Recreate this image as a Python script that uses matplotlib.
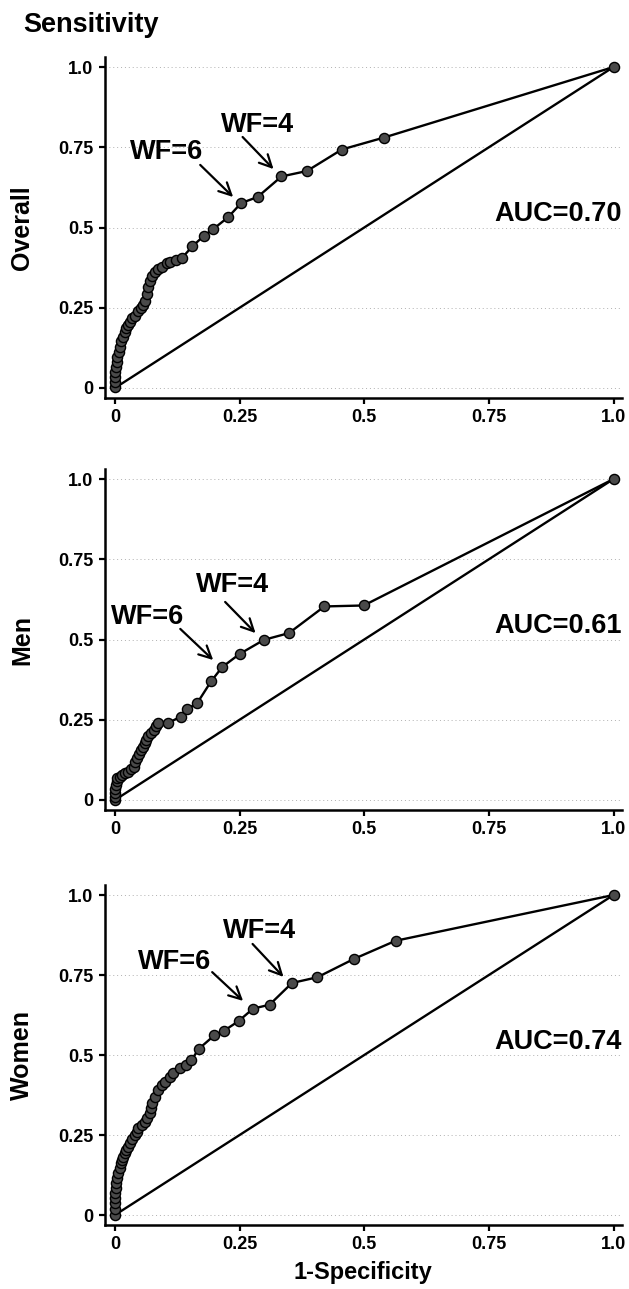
import matplotlib
matplotlib.use("Agg")
import matplotlib.pyplot as plt
import matplotlib.transforms as mtransforms

plt.rcParams['font.family'] = ['Liberation Sans', 'DejaVu Sans']
plt.rcParams['font.weight'] = 'bold'

# ---- data (1-specificity, sensitivity) ----
overall_fpr = [0, 0, 0, 0.001, 0.002, 0.004, 0.005, 0.008, 0.010, 0.013, 0.017, 0.020,
               0.023, 0.027, 0.030, 0.035, 0.040, 0.047, 0.052, 0.057, 0.061, 0.064,
               0.067, 0.070, 0.074, 0.080, 0.087, 0.094, 0.104, 0.111, 0.123, 0.135,
               0.155, 0.179, 0.197, 0.227, 0.253, 0.286, 0.334, 0.385, 0.455, 0.539, 1.0]
overall_tpr = [0.002, 0.018, 0.035, 0.050, 0.066, 0.082, 0.098, 0.113, 0.129, 0.145, 0.160, 0.173,
               0.186, 0.197, 0.207, 0.217, 0.225, 0.240, 0.250, 0.259, 0.272, 0.293,
               0.315, 0.333, 0.348, 0.360, 0.370, 0.378, 0.388, 0.394, 0.400, 0.406,
               0.441, 0.475, 0.495, 0.532, 0.576, 0.595, 0.659, 0.676, 0.743, 0.780, 1.0]

men_fpr = [0, 0, 0, 0.001, 0.002, 0.004, 0.005, 0.010, 0.015, 0.020, 0.026, 0.032,
           0.038, 0.041, 0.044, 0.048, 0.052, 0.056, 0.060, 0.063, 0.066, 0.072,
           0.079, 0.083, 0.087, 0.106, 0.132, 0.145, 0.165, 0.193, 0.215, 0.250,
           0.299, 0.349, 0.420, 0.499, 1.0]
men_tpr = [0, 0.010, 0.021, 0.034, 0.047, 0.058, 0.068, 0.073, 0.078, 0.083, 0.088, 0.096,
           0.104, 0.117, 0.130, 0.143, 0.156, 0.166, 0.177, 0.188, 0.198, 0.208,
           0.218, 0.229, 0.239, 0.239, 0.260, 0.283, 0.302, 0.370, 0.414, 0.455,
           0.499, 0.520, 0.603, 0.606, 1.0]

women_fpr = [0, 0, 0, 0, 0.001, 0.002, 0.003, 0.005, 0.007, 0.010, 0.012, 0.015,
             0.017, 0.020, 0.023, 0.027, 0.030, 0.035, 0.040, 0.044, 0.047, 0.054,
             0.060, 0.064, 0.070, 0.072, 0.074, 0.080, 0.087, 0.094, 0.100, 0.110,
             0.117, 0.131, 0.142, 0.153, 0.168, 0.199, 0.218, 0.248, 0.277, 0.310,
             0.355, 0.406, 0.479, 0.563, 1.0]
women_tpr = [0, 0.018, 0.036, 0.052, 0.068, 0.084, 0.099, 0.115, 0.130, 0.146, 0.161, 0.172,
             0.182, 0.193, 0.203, 0.214, 0.224, 0.237, 0.250, 0.260, 0.271, 0.281,
             0.292, 0.302, 0.318, 0.334, 0.349, 0.370, 0.390, 0.405, 0.417, 0.430,
             0.444, 0.460, 0.470, 0.483, 0.519, 0.561, 0.575, 0.606, 0.645, 0.657,
             0.725, 0.743, 0.800, 0.857, 1.0]

panel_names = ["Overall", "Men", "Women"]
auc_labels = ["AUC=0.70", "AUC=0.61", "AUC=0.74"]
ticks = [0, 0.25, 0.5, 0.75, 1.0]
tick_labels = ["0", "0.25", "0.5", "0.75", "1.0"]

# annotation layout: (text_x, text_y, tail_x, tail_y, head_x, head_y)
wf6_layout = [(0.103, 0.735, 0.171, 0.695, 0.237, 0.595),
              (0.065, 0.569, 0.131, 0.533, 0.197, 0.436),
              (0.119, 0.790, 0.195, 0.759, 0.257, 0.669)]
wf4_layout = [(0.286, 0.819, 0.256, 0.782, 0.318, 0.682),
              (0.236, 0.670, 0.221, 0.617, 0.282, 0.520),
              (0.290, 0.888, 0.276, 0.847, 0.338, 0.744)]

series = [(overall_fpr, overall_tpr), (men_fpr, men_tpr), (women_fpr, women_tpr)]

W, H = 629, 1289
fig = plt.figure(figsize=(W / 100, H / 100), dpi=100)

# axes pixel boxes (left, top, right, bottom)
boxes = [(105, 57.4, 622, 397.6), (105, 469.4, 622, 809.6), (105, 885.4, 622, 1224.6)]

for i, (fpr, tpr) in enumerate(series):
    l, t, r, b = boxes[i]
    ax = fig.add_axes([l / W, 1 - b / H, (r - l) / W, (b - t) / H])
    ax.set_xlim(-0.02, 1.017)
    ax.set_ylim(-0.03, 1.03)
    for s in ['top', 'right']:
        ax.spines[s].set_visible(False)
    for s in ['left', 'bottom']:
        ax.spines[s].set_linewidth(1.8)
    ax.set_xticks(ticks)
    ax.set_xticklabels(tick_labels)
    ax.set_yticks(ticks)
    ax.set_yticklabels(tick_labels)
    ax.tick_params(direction='out', length=4.5, width=1.6, labelsize=13, pad=4)
    for lab in ax.get_xticklabels() + ax.get_yticklabels():
        lab.set_fontweight('bold')
    ax.grid(axis='y', linestyle=(0, (1, 3)), color='#b0b0b0', linewidth=0.7)
    ax.set_axisbelow(True)

    ax.plot([0, 1], [0, 1], color='black', lw=1.7, zorder=2)
    ax.plot(fpr, tpr, color='black', lw=1.7, marker='o', markersize=7.3,
            markerfacecolor='#4a4a4a', markeredgecolor='black', markeredgewidth=1.0,
            zorder=3)

    ax.text(1.0, 0.52, auc_labels[i],
            transform=mtransforms.blended_transform_factory(ax.transAxes, ax.transData),
            ha='right', va='baseline', fontsize=19.5, fontweight='bold')

    for lay, lab in ((wf6_layout[i], "WF=6"), (wf4_layout[i], "WF=4")):
        tx, ty, ax0, ay0, hx, hy = lay
        ax.text(tx, ty, lab, ha='center', va='center', fontsize=19.5, fontweight='bold')
        ax.annotate('', xy=(hx, hy), xytext=(ax0, ay0),
                    arrowprops=dict(arrowstyle='->', lw=1.6, color='black',
                                    mutation_scale=22, shrinkA=0, shrinkB=0))

    fig.text(22 / W, 1 - ((t + b) / 2) / H, panel_names[i], rotation=90,
             ha='center', va='center', fontsize=18, fontweight='bold')

fig.text(23 / W, 1 - 25 / H, "Sensitivity", ha='left', va='center',
         fontsize=19.5, fontweight='bold')
fig.text(363 / W, 1 - 1272 / H, "1-Specificity", ha='center', va='center',
         fontsize=17, fontweight='bold')

fig.savefig("out.png", dpi=100)
